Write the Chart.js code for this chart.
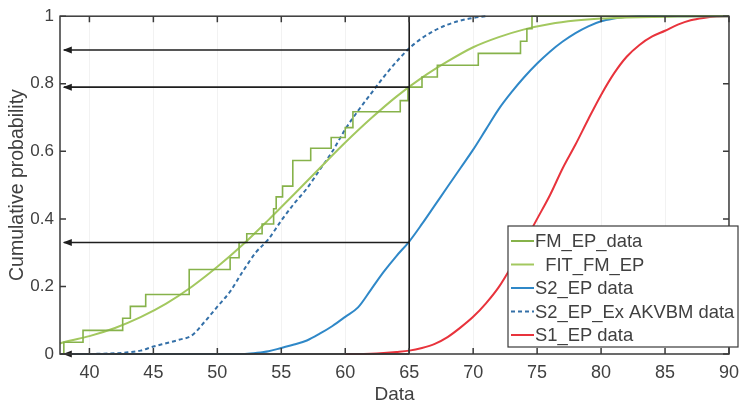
<!DOCTYPE html>
<html>
<head>
<meta charset="utf-8">
<script src="https://cdn.jsdelivr.net/npm/chart.js@4"></script>
<style>
    html, body { margin: 0; padding: 0; background: #fff; }
</style>
</head>
<body>
<canvas id="chart" width="747" height="406"></canvas>
<script>
// --- data ---
const xTicks = [40, 45, 50, 55, 60, 65, 70, 75, 80, 85, 90];
const yTicks = [0, 0.2, 0.4, 0.6, 0.8, 1];
const yTickLabels = ["0", "0.2", "0.4", "0.6", "0.8", "1"];

// empirical CDF (steps: x where the jump happens, level after it)
const fmX = [37.7, 38.0, 39.5, 42.6, 43.2, 44.4, 47.8, 51.0, 51.7, 52.3, 53.5, 54.4, 54.6, 55.1, 55.9, 57.3, 58.9, 60.0, 60.6, 64.3, 64.9, 66.0, 67.2, 70.4, 73.7, 74.2, 74.6, 90];
const fmY = [0, 0.035, 0.07, 0.106, 0.141, 0.176, 0.25, 0.285, 0.33, 0.356, 0.385, 0.43, 0.465, 0.497, 0.573, 0.609, 0.641, 0.67, 0.717, 0.75, 0.79, 0.82, 0.855, 0.89, 0.926, 0.963, 1.0, 1.0];

const fitX = [37.7, 38, 40, 42, 44, 46, 48, 50, 52, 54, 56, 58, 60, 62, 64, 66, 68, 70, 72, 74, 76, 78, 80, 82, 84, 86, 88, 90];
const fitY = [0.031, 0.035, 0.053, 0.077, 0.109, 0.149, 0.199, 0.258, 0.324, 0.397, 0.473, 0.55, 0.626, 0.697, 0.762, 0.818, 0.866, 0.908, 0.938, 0.961, 0.977, 0.987, 0.993, 0.996, 0.998, 0.999, 1.0, 1.0];

const s2X = [37.7, 52, 53, 54, 55, 56, 57, 58, 59, 60, 61, 62, 63, 64, 65, 66, 67, 68, 69, 70, 71, 72, 73, 74, 75, 76, 77, 78, 79, 80, 81, 82, 83, 90];
const s2Y = [0, 0, 0.003, 0.008, 0.018, 0.028, 0.04, 0.06, 0.083, 0.11, 0.138, 0.19, 0.243, 0.29, 0.333, 0.385, 0.44, 0.495, 0.55, 0.605, 0.665, 0.725, 0.775, 0.82, 0.86, 0.895, 0.925, 0.95, 0.97, 0.985, 0.993, 0.998, 1.0, 1.0];

const s2exX = [40, 42, 43, 44, 45, 46, 47, 48, 49, 50, 51, 52, 53, 54, 55, 56, 57, 58, 59, 60, 61, 62, 63, 64, 65, 66, 67, 68, 69, 70, 71];
const s2exY = [0, 0.002, 0.005, 0.01, 0.022, 0.032, 0.042, 0.055, 0.095, 0.14, 0.185, 0.245, 0.3, 0.34, 0.395, 0.445, 0.49, 0.545, 0.6, 0.665, 0.72, 0.77, 0.82, 0.865, 0.905, 0.935, 0.958, 0.975, 0.987, 0.995, 1.0];

const s1X = [60, 62, 63, 64, 65, 66, 67, 68, 69, 70, 71, 72, 73, 74, 75, 76, 77, 78, 79, 80, 81, 82, 83, 84, 85, 86, 87, 88, 89, 90];
const s1Y = [0, 0.001, 0.003, 0.006, 0.01, 0.018, 0.03, 0.05, 0.078, 0.11, 0.15, 0.198, 0.26, 0.33, 0.4, 0.47, 0.55, 0.62, 0.695, 0.767, 0.83, 0.88, 0.915, 0.94, 0.957, 0.975, 0.988, 0.995, 0.999, 1.0];

// reading lines: vertical at 65, arrows back to the y axis
const markX = 65;
const arrowEnd = 38.0;
const arrowLevels = [0.9, 0.79, 0.33, 0];

const TEXT = "#404040";
const INK = "#1e1e1e";

const zip = (xs, ys) => xs.map((x, i) => ({ x, y: ys[i] }));

Chart.defaults.font.family = "'Liberation Sans', Arial, sans-serif";
Chart.defaults.color = TEXT;

function curve(label, xs, ys, color, extra) {
    return Object.assign({
        label,
        data: zip(xs, ys),
        borderColor: color,
        backgroundColor: color,
        borderWidth: 2,
        pointRadius: 0,
        fill: false,
        clip: 4,
        cubicInterpolationMode: "monotone",
        legend: true,
    }, extra || {});
}

const datasets = [
    { label: "mark", data: [{ x: markX, y: 0 }, { x: markX, y: 1 }], borderColor: INK, borderWidth: 1.6, pointRadius: 0, order: -1 },
    ...arrowLevels.map(v => ({
        label: "arrow", data: [{ x: markX, y: v }, { x: arrowEnd, y: v }],
        borderColor: INK, borderWidth: 1.6, pointRadius: 0, order: -1, clip: 4,
    })),
    curve("FM_EP_data", fmX, fmY, "#86b24a", { stepped: true, borderWidth: 1.6, cubicInterpolationMode: "default" }),
    curve("  FIT_FM_EP", fitX, fitY, "#a3c85f"),
    curve("S2_EP data", s2X, s2Y, "#2f88c8"),
    curve("S2_EP_Ex AKVBM data", s2exX, s2exY, "#3470a8", { borderDash: [4, 3] }),
    curve("S1_EP data", s1X, s1Y, "#e8333c"),
];

// axes box, inward ticks, arrow heads and the legend box
const framePlugin = {
    id: "frame",
    afterDatasetsDraw(chart) {
        const { ctx, chartArea: a, scales: { x, y } } = chart;
        ctx.save();

        ctx.fillStyle = INK;
        arrowLevels.forEach(v => {
            const px = x.getPixelForValue(arrowEnd);
            const py = y.getPixelForValue(v);
            ctx.beginPath();
            ctx.moveTo(px - 1, py);
            ctx.lineTo(px + 8, py - 3.5);
            ctx.lineTo(px + 8, py + 3.5);
            ctx.closePath();
            ctx.fill();
        });

        ctx.strokeStyle = "#3a3a3a";
        ctx.lineWidth = 1.5;
        ctx.strokeRect(a.left, a.top, a.right - a.left, a.bottom - a.top);
        ctx.beginPath();
        x.ticks.forEach(t => {
            const px = x.getPixelForValue(t.value);
            ctx.moveTo(px, a.bottom); ctx.lineTo(px, a.bottom - 6);
            ctx.moveTo(px, a.top); ctx.lineTo(px, a.top + 6);
        });
        y.ticks.forEach(t => {
            const py = y.getPixelForValue(t.value);
            ctx.moveTo(a.left, py); ctx.lineTo(a.left + 6, py);
            ctx.moveTo(a.right, py); ctx.lineTo(a.right - 6, py);
        });
        ctx.stroke();

        // legend
        const items = chart.data.datasets.filter(d => d.legend);
        const box = { x: 508, y: 226, w: 230, h: 121 };
        ctx.fillStyle = "#fff";
        ctx.fillRect(box.x, box.y, box.w, box.h);
        ctx.strokeStyle = "#3a3a3a";
        ctx.lineWidth = 1.2;
        ctx.strokeRect(box.x, box.y, box.w, box.h);
        ctx.font = "18.4px 'Liberation Sans', Arial, sans-serif";
        ctx.textBaseline = "middle";
        items.forEach((d, i) => {
            const ry = box.y + 15 + i * 23.5;
            ctx.strokeStyle = d.borderColor;
            ctx.lineWidth = 2;
            ctx.setLineDash(d.borderDash || []);
            ctx.beginPath();
            ctx.moveTo(box.x + 3, ry);
            ctx.lineTo(box.x + 26, ry);
            ctx.stroke();
            ctx.setLineDash([]);
            ctx.fillStyle = TEXT;
            ctx.fillText(d.label, box.x + 27, ry + 1);
        });
        ctx.restore();
    },
};

new Chart(document.getElementById("chart"), {
    type: "line",
    data: { datasets },
    options: {
        responsive: false,
        animation: false,
        layout: { padding: { left: 0, right: 6, top: 14, bottom: 0 } },
        plugins: { legend: { display: false }, tooltip: { enabled: false } },
        scales: {
            x: {
                type: "linear",
                min: 37.7,
                max: 90,
                afterBuildTicks: s => { s.ticks = xTicks.map(v => ({ value: v })); },
                afterFit: s => { s.height = 52; },
                grid: { color: "rgba(0,0,0,0.05)", drawTicks: false },
                border: { display: false },
                ticks: { color: TEXT, font: { size: 18 }, padding: 8, maxRotation: 0 },
                title: { display: true, text: "Data", color: TEXT, font: { size: 19, lineHeight: 1.2 }, padding: { top: 0, bottom: 0 } },
            },
            y: {
                type: "linear",
                min: 0,
                max: 1,
                afterBuildTicks: s => { s.ticks = yTicks.map(v => ({ value: v })); },
                afterFit: s => { s.width = 60; },
                grid: { display: false, drawTicks: false },
                border: { display: false },
                ticks: {
                    color: TEXT, font: { size: 17 }, padding: 6,
                    callback: v => yTickLabels[yTicks.indexOf(v)],
                },
                title: { display: true, text: "Cumulative probability", color: TEXT, font: { size: 19.5, lineHeight: 1.2 }, padding: { top: 6, bottom: 0 } },
            },
        },
    },
    plugins: [framePlugin],
});
</script>
</body>
</html>
